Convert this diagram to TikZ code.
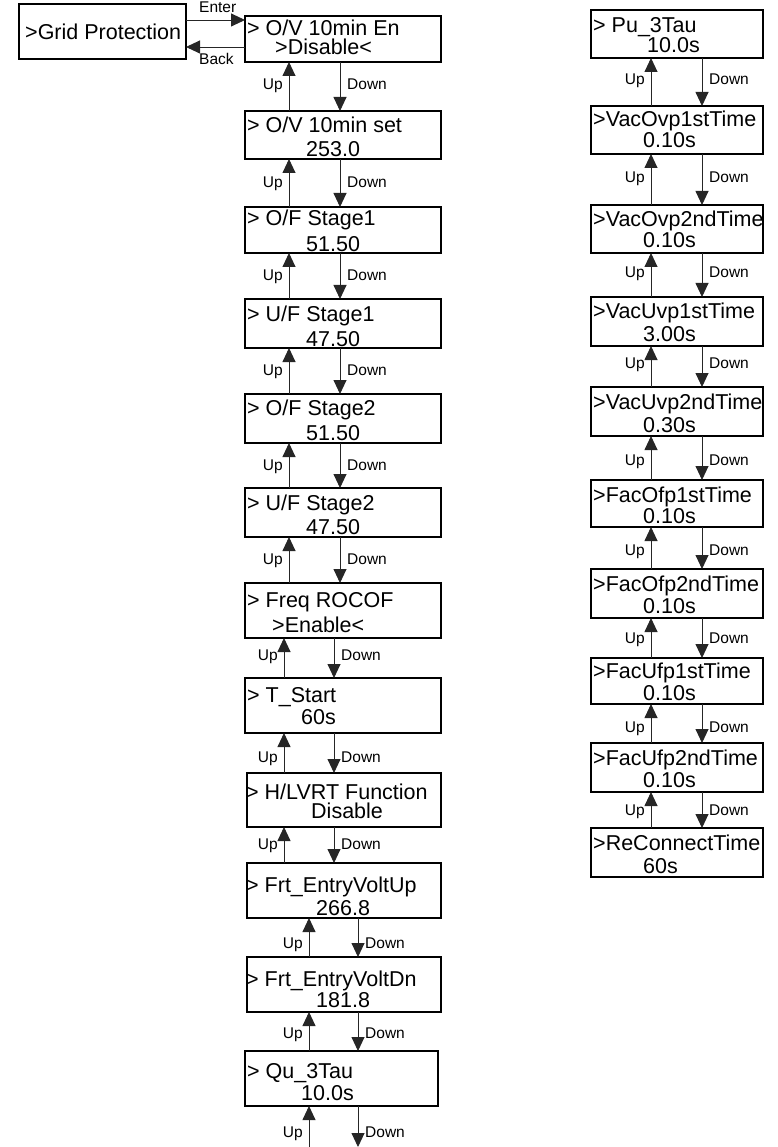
\documentclass[tikz,border=0pt]{standalone}
\usepackage{fontspec}
\setmainfont{Liberation Sans}
\usetikzlibrary{arrows.meta}
\newcommand{\bx}[5]{\node[box, minimum width={(#4-#2)*1pt}, minimum height={(#5-#3)*1pt}] (#1) at ({(#2+#4)/2},{(#3+#5)/2}) {};}
\newcommand{\tx}[4]{\node[txt] (#1) at (#2,#3) {#4};}
\newcommand{\updown}[6]{%
  \draw[arr] (#2.north -| #3,0) -- (#1.south -| #3,0);
  \draw[arr] (#1.south -| #4,0) -- (#2.north -| #4,0);
  \node[lab, anchor=base east] (u#1) at ({#3-6},#5) {Up};
  \node[lab, anchor=base west] (d#1) at ({#4+7},#5) {Down};}
\begin{document}
\begin{tikzpicture}[x=1pt,y=-1pt,
  box/.style={draw=black, line width=1.1pt, inner sep=0pt, outer sep=0pt},
  txt/.style={anchor=base west, inner sep=0pt, font=\fontsize{21.5}{24}\selectfont},
  lab/.style={inner sep=0pt, font=\fontsize{15.5}{18}\selectfont},
  arr/.style={draw=black!85, line width=0.9pt, -{Triangle[width=13pt,length=14pt]}}]
\useasboundingbox (0,0) rectangle (777,1147);
% top-left
\bx{G}{19}{4}{186}{59}
\tx{tG}{25}{39.5}{>Grid Protection}
% left column
\bx{B1}{245}{16}{441}{62}
\bx{B2}{245}{111}{441}{159}
\bx{B3}{245}{207}{441}{253}
\bx{B4}{245}{299}{441}{348}
\bx{B5}{245}{394}{441}{443}
\bx{B6}{245}{488}{441}{537}
\bx{B7}{245}{583}{441}{638}
\bx{B8}{245}{678}{441}{733}
\bx{B9}{247}{773}{441}{827}
\bx{B10}{247}{863}{441}{918}
\bx{B11}{247}{957}{441}{1012}
\bx{B12}{245}{1051}{438}{1106}
\tx{t1a}{247}{36}{> O/V 10min En}
\tx{t1b}{275}{55}{>Disable<}
\tx{t2a}{247}{133}{> O/V 10min set}
\tx{t2b}{306}{157}{253.0}
\tx{t3a}{247}{226}{> O/F Stage1}
\tx{t3b}{306}{252}{51.50}
\tx{t4a}{247}{321}{> U/F Stage1}
\tx{t4b}{306}{346}{47.50}
\tx{t5a}{247}{415}{> O/F Stage2}
\tx{t5b}{306}{440}{51.50}
\tx{t6a}{247}{510}{> U/F Stage2}
\tx{t6b}{306}{534}{47.50}
\tx{t7a}{247}{607}{> Freq ROCOF}
\tx{t7b}{272}{632}{>Enable<}
\tx{t8a}{247}{702}{> T\_Start}
\tx{t8b}{301}{724}{60s}
\tx{t9a}{246}{799}{> H/LVRT Function}
\tx{t9b}{311}{818}{Disable}
\tx{t10a}{246}{892}{> Frt\_EntryVoltUp}
\tx{t10b}{316}{915}{266.8}
\tx{t11a}{246}{986}{> Frt\_EntryVoltDn}
\tx{t11b}{316}{1007}{181.8}
\tx{t12a}{247}{1078}{> Qu\_3Tau}
\tx{t12b}{301}{1100}{10.0s}
% enter / back
\draw[arr] (G.east |- 0,20) -- (B1.west |- 0,20);
\draw[arr] (B1.west |- 0,47) -- (G.east |- 0,47);
\node[lab, anchor=base west] (lEnter) at (199,13) {Enter};
\node[lab, anchor=base west] (lBack) at (199,65) {Back};
% left arrows
\updown{B1}{B2}{289}{340}{90}{}
\updown{B2}{B3}{289}{340}{188}{}
\updown{B3}{B4}{289}{340}{280}{}
\updown{B4}{B5}{289}{340}{375}{}
\updown{B5}{B6}{289}{340}{470}{}
\updown{B6}{B7}{289}{340}{564}{}
\updown{B7}{B8}{284}{334}{660}{}
\updown{B8}{B9}{284}{334}{762}{}
\updown{B9}{B10}{284}{334}{849}{}
\updown{B10}{B11}{309}{358}{948}{}
\updown{B11}{B12}{309}{358}{1038}{}
\coordinate (e1) at (309,1147);
\coordinate (e2) at (358,1147);
\draw[arr] (e1) -- (B12.south -| e1);
\draw[arr] (B12.south -| e2) -- (e2);
\node[lab, anchor=base east] (uB12) at (303,1137) {Up};
\node[lab, anchor=base west] (dB12) at (365,1137) {Down};
% right column
\bx{R1}{591}{10}{763}{58}
\bx{R2}{591}{106}{763}{154}
\bx{R3}{591}{205}{763}{253}
\bx{R4}{591}{297}{763}{346}
\bx{R5}{591}{387}{763}{436}
\bx{R6}{591}{480}{763}{527}
\bx{R7}{591}{569}{763}{618}
\bx{R8}{591}{658}{763}{704}
\bx{R9}{591}{743}{763}{792}
\bx{R10}{591}{828}{763}{877}
\tx{r1a}{593}{33}{> Pu\_3Tau}
\tx{r1b}{647}{53}{10.0s}
\tx{r2a}{593}{127}{>VacOvp1stTime}
\tx{r2b}{643}{148}{0.10s}
\tx{r3a}{593}{227}{>VacOvp2ndTime}
\tx{r3b}{643}{248}{0.10s}
\tx{r4a}{593}{318}{>VacUvp1stTime}
\tx{r4b}{643}{341}{3.00s}
\tx{r5a}{593}{409}{>VacUvp2ndTime}
\tx{r5b}{643}{432}{0.30s}
\tx{r6a}{593}{502}{>FacOfp1stTime}
\tx{r6b}{643}{523}{0.10s}
\tx{r7a}{593}{591}{>FacOfp2ndTime}
\tx{r7b}{643}{613}{0.10s}
\tx{r8a}{593}{678}{>FacUfp1stTime}
\tx{r8b}{643}{700}{0.10s}
\tx{r9a}{593}{765}{>FacUfp2ndTime}
\tx{r9b}{643}{787}{0.10s}
\tx{r10a}{593}{850}{>ReConnectTime}
\tx{r10b}{643}{873}{60s}
\updown{R1}{R2}{651}{702}{85}{}
\updown{R2}{R3}{651}{702}{183}{}
\updown{R3}{R4}{651}{702}{277}{}
\updown{R4}{R5}{651}{702}{368}{}
\updown{R5}{R6}{651}{702}{465}{}
\updown{R6}{R7}{651}{702}{555}{}
\updown{R7}{R8}{651}{702}{643}{}
\updown{R8}{R9}{651}{702}{732}{}
\updown{R9}{R10}{651}{702}{815}{}
\end{tikzpicture}
\end{document}
